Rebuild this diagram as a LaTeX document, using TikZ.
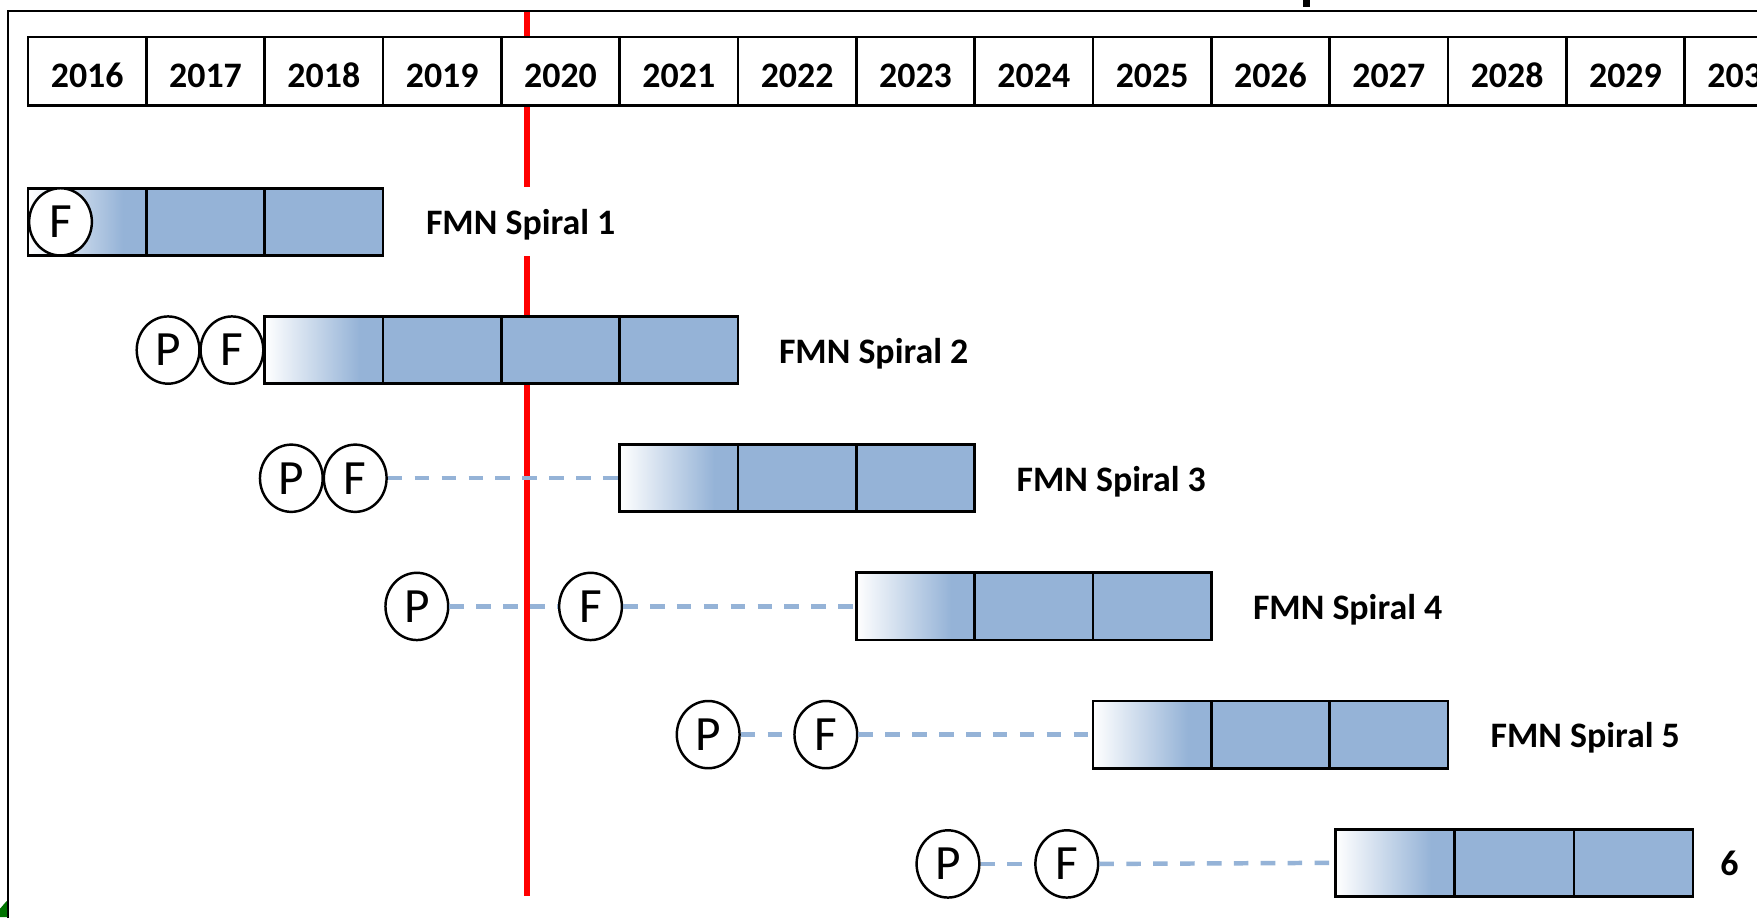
\documentclass[tikz,border=0pt]{standalone}
\usepackage{fontspec}
\setmainfont{Carlito}
\usetikzlibrary{shapes.geometric}
\definecolor{barblue}{RGB}{149,179,215}
\definecolor{dashblue}{RGB}{149,179,215}
\definecolor{todayred}{RGB}{255,0,0}
\pgfdeclarehorizontalshading{fadein}{100bp}{color(0bp)=(white); color(25bp)=(white); color(65bp)=(barblue); color(100bp)=(barblue)}
\begin{document}
\begin{tikzpicture}[x=1pt,y=-1pt,
  yearcell/.style={draw, line width=2.5pt, fill=white, minimum width=105.6pt, minimum height=61pt, inner sep=0pt,
    font=\bfseries\fontsize{32}{32}\selectfont, text height=29pt, text depth=0pt},
  cell/.style={draw, line width=2.5pt, fill=barblue, minimum width=105.6pt, minimum height=60pt, inner sep=0pt},
  fadecell/.style={cell, shade, shading=fadein},
  milestone/.style={ellipse, draw, line width=2.2pt, fill=white, minimum width=56pt, minimum height=60pt, inner sep=0pt,
    font=\fontsize{44}{44}\selectfont},
  spirallabel/.style={anchor=base west, inner sep=0pt, fill=white, font=\bfseries\fontsize{32}{32}\selectfont,
    text height=42.5pt, text depth=18.5pt},
  dashline/.style={draw=dashblue, line width=4pt, dash pattern=on 13pt off 11pt},
  redline/.style={draw=todayred, line width=5.5pt},
  frameline/.style={draw=black, line width=1.8pt}
]
\useasboundingbox (0,0) rectangle (1568,818.4);
\clip (0,0) rectangle (1568,818.4);
\fill[white] (0,0) rectangle (1568,818.4);

% outer frame and marks
\draw[frameline] (7,830) -- (7,9.5) -- (1600,9.5);
\fill[black] (1163,0) rectangle (1169,6.5);
\fill[green!45!black] (0,818.4) -- (0,811) -- (6,804) -- (6.5,818.4) -- cycle;

% today line
\coordinate (redtop) at (470,11);
\coordinate (redbot) at (470,800);
\draw[redline] (redtop) -- (redbot);

% year header
\foreach \i in {0,...,14} {
  \pgfmathtruncatemacro\yr{2016+\i}
  \node[yearcell] (y\yr) at ({25+105.6*(\i+0.5)},63.5) {\yr};
}

% Spiral 1
\node[fadecell] (b1a) at (77.8,198) {};
\node[cell] (b1b) at (183.4,198) {};
\node[cell] (b1c) at (289,198) {};
\node[milestone] (r1F) at (54,198) {F};
\node[spirallabel] (lab1) at (380,209.7) {FMN Spiral 1};

% Spiral 2
\node[fadecell] (b2a) at (289,312.4) {};
\node[cell] (b2b) at (394.6,312.4) {};
\node[cell] (b2c) at (500.2,312.4) {};
\node[cell] (b2d) at (605.8,312.4) {};
\node[milestone] (r2P) at (150,312.4) {P};
\node[milestone] (r2F) at (207,312.4) {F};
\node[spirallabel] (lab2) at (695,324.1) {FMN Spiral 2};

% Spiral 3
\node[fadecell] (b3a) at (605.8,426.8) {};
\node[cell] (b3b) at (711.4,426.8) {};
\node[cell] (b3c) at (817,426.8) {};
\node[milestone] (r3P) at (260,426.8) {P};
\node[milestone] (r3F) at (317,426.8) {F};
\draw[dashline] (r3F.east) -- (b3a.west);
\node[spirallabel] (lab3) at (907,438.5) {FMN Spiral 3};

% Spiral 4
\node[fadecell] (b4a) at (817,541.2) {};
\node[cell] (b4b) at (922.6,541.2) {};
\node[cell] (b4c) at (1028.2,541.2) {};
\node[milestone] (r4P) at (372,541.2) {P};
\node[milestone] (r4F) at (527,541.2) {F};
\draw[dashline] (r4P.east) -- (r4F.west);
\draw[dashline] (r4F.east) -- (b4a.west);
\node[spirallabel] (lab4) at (1118,552.9) {FMN Spiral 4};

% Spiral 5
\node[fadecell] (b5a) at (1028.2,655.6) {};
\node[cell] (b5b) at (1133.8,655.6) {};
\node[cell] (b5c) at (1239.4,655.6) {};
\node[milestone] (r5P) at (632,655.6) {P};
\node[milestone] (r5F) at (737,655.6) {F};
\draw[dashline] (r5P.east) -- (r5F.west);
\draw[dashline] (r5F.east) -- (b5a.west);
\node[spirallabel] (lab5) at (1330,667.3) {FMN Spiral 5};

% Spiral 6
\node[fadecell, minimum width=106.3pt] (b6a) at (1245.2,770) {};
\node[cell, minimum width=106.3pt] (b6b) at (1351.5,770) {};
\node[cell, minimum width=106.3pt] (b6c) at (1457.8,770) {};
\node[milestone] (r6P) at (846,771) {P};
\node[milestone] (r6F) at (952,771) {F};
\draw[dashline] (r6P.east) -- (r6F.west);
\draw[dashline] (r6F.east) -- (b6a.west);
\node[spirallabel] (lab6) at (1535,781.7) {6};
\end{tikzpicture}
\end{document}
